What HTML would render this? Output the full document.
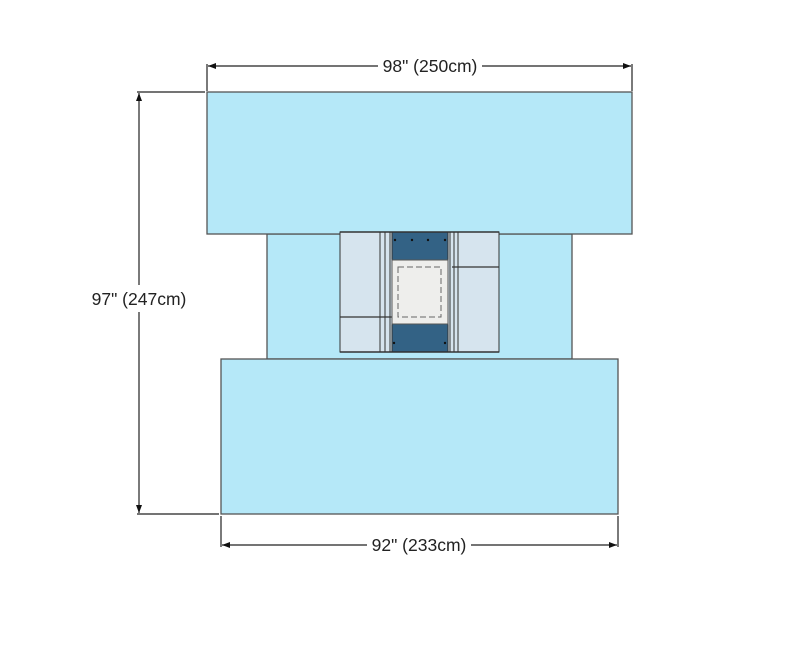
<!DOCTYPE html>
<html><head><meta charset="utf-8"><style>
html,body{margin:0;padding:0;background:#fff;}
svg{display:block;}
text{font-family:"Liberation Sans",Arial,sans-serif;font-size:17.5px;fill:#222;}
</style></head><body>
<svg width="791" height="645" viewBox="0 0 791 645" xmlns="http://www.w3.org/2000/svg">
<defs>
<marker id="ar" markerWidth="8" markerHeight="6" refX="8" refY="3" orient="auto" markerUnits="userSpaceOnUse">
<path d="M0,0 L8,3 L0,6 z" fill="#111"/></marker>
</defs>
<rect x="267" y="234" width="305" height="125" fill="#b5e8f8" stroke="#555" stroke-width="1.3"/>
<rect x="207" y="92" width="425" height="142" fill="#b5e8f8" stroke="#555" stroke-width="1.3"/>
<rect x="221" y="359" width="397" height="155" fill="#b5e8f8" stroke="#555" stroke-width="1.3"/>
<g stroke="#333" stroke-width="1">
<rect x="340" y="232" width="159" height="120" fill="#d6e4ee"/>
<rect x="392" y="232" width="56" height="120" fill="#336285"/>
<line x1="380" y1="232" x2="380" y2="352"/>
<line x1="385" y1="232" x2="385" y2="352"/>
<line x1="390" y1="232" x2="390" y2="352"/>
<line x1="450" y1="232" x2="450" y2="352"/>
<line x1="454" y1="232" x2="454" y2="352"/>
<line x1="458" y1="232" x2="458" y2="352"/>
<line x1="452" y1="267" x2="499" y2="267" stroke-width="1.3"/>
<line x1="340" y1="317" x2="392" y2="317" stroke-width="1.3"/>
<rect x="392" y="260" width="56" height="64" fill="#eeeeec" stroke="#555"/>
<rect x="398" y="267" width="43" height="50" fill="none" stroke="#666" stroke-dasharray="6,3"/>
<line x1="340" y1="232" x2="499" y2="232" stroke-width="1.6"/>
<line x1="340" y1="352" x2="499" y2="352" stroke-width="1.6"/>
</g>
<g fill="#111">
<circle cx="395" cy="240" r="1.2"/><circle cx="412" cy="240" r="1.2"/><circle cx="428" cy="240" r="1.2"/><circle cx="445" cy="240" r="1.2"/>
<circle cx="394" cy="343" r="1.2"/><circle cx="445" cy="343" r="1.2"/>
</g>
<g stroke="#222" stroke-width="1.2" fill="none">
<line x1="207" y1="64" x2="207" y2="91"/>
<line x1="632" y1="64" x2="632" y2="91"/>
<line x1="378" y1="66" x2="208" y2="66" marker-end="url(#ar)"/>
<line x1="482" y1="66" x2="631" y2="66" marker-end="url(#ar)"/>
<line x1="137" y1="92" x2="205" y2="92"/>
<line x1="137" y1="514" x2="219" y2="514"/>
<line x1="139" y1="285" x2="139" y2="93" marker-end="url(#ar)"/>
<line x1="139" y1="312" x2="139" y2="513" marker-end="url(#ar)"/>
<line x1="221" y1="516" x2="221" y2="547"/>
<line x1="618" y1="516" x2="618" y2="547"/>
<line x1="367" y1="545" x2="222" y2="545" marker-end="url(#ar)"/>
<line x1="471" y1="545" x2="617" y2="545" marker-end="url(#ar)"/>
</g>
<rect x="86" y="287" width="106" height="22" fill="#fff"/>
<text x="430" y="72" text-anchor="middle">98" (250cm)</text>
<text x="139" y="305" text-anchor="middle">97" (247cm)</text>
<text x="419" y="551" text-anchor="middle">92" (233cm)</text>
</svg>
</body></html>
